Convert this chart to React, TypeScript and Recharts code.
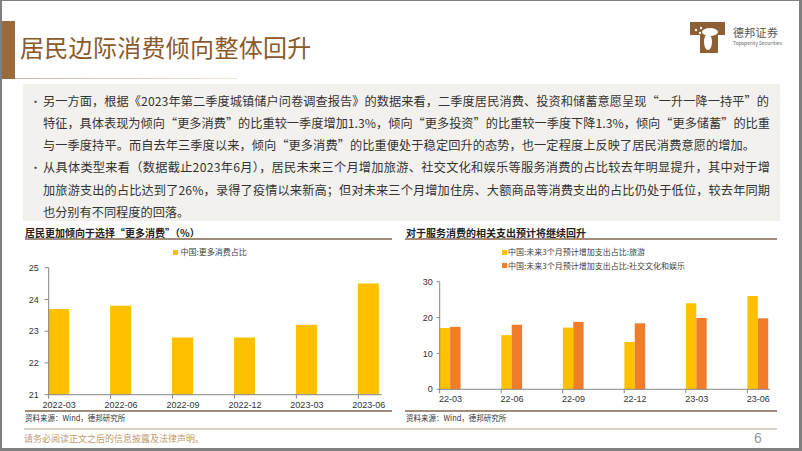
import { BarChart, Bar, XAxis, YAxis } from 'recharts';

// 左图：居民更加倾向于选择"更多消费"
const leftCategories = ['2022-03', '2022-06', '2022-09', '2022-12', '2023-03', '2023-06'];
const moreConsumption = [23.7, 23.8, 22.8, 22.8, 23.2, 24.5];
const leftTicks = [21, 22, 23, 24, 25];

// 右图：服务消费相关支出
const rightCategories = ['22-03', '22-06', '22-09', '22-12', '23-03', '23-06'];
const travel = [17.1, 15.1, 17.2, 13.2, 24.0, 26.0];
const social = [17.4, 18.0, 18.8, 18.4, 19.9, 19.8];
const rightTicks = [0, 10, 20, 30];

const leftData = leftCategories.map((c, i) => ({ idx: i, name: c, value: moreConsumption[i] }));
const rightData = rightCategories.map((c, i) => ({ idx: i, name: c, travel: travel[i], social: social[i] }));
const idxTicks = leftCategories.map((_, i) => i);

const CN = '"Noto Sans CJK SC", "Noto Sans", sans-serif';
const AX = '"Liberation Sans", Arial, sans-serif';
const AXIS = '#868686';
const YELLOW = '#FFC000';
const ORANGE = '#F07D2B';

function CatTick(props: any) {
  const { x, y, payload, labels, shift, dy } = props;
  const label = labels[payload.value] ?? '';
  return (
    <g>
      <line x1={x - shift} x2={x - shift} y1={y} y2={y + 4} stroke={AXIS} />
      <text x={x} y={y + dy} textAnchor="middle" fontSize={9} fill="#333" fontFamily={AX}>
        {label}
      </text>
    </g>
  );
}

// 正文各行（width 为排版宽度，0 表示自然宽度）
const bodyLines = [
  { text: '另一方面，根据《2023年第二季度城镇储户问卷调查报告》的数据来看，二季度居民消费、投资和储蓄意愿呈现“一升一降一持平”的', bullet: true, width: 726 },
  { text: '特征，具体表现为倾向“更多消费”的比重较一季度增加1.3%，倾向“更多投资”的比重较一季度下降1.3%，倾向“更多储蓄”的比重', bullet: false, width: 727 },
  { text: '与一季度持平。而自去年三季度以来，倾向“更多消费”的比重便处于稳定回升的态势，也一定程度上反映了居民消费意愿的增加。', bullet: false, width: 712 },
  { text: '从具体类型来看（数据截止2023年6月），居民未来三个月增加旅游、社交文化和娱乐等服务消费的占比较去年明显提升，其中对于增', bullet: true, width: 727 },
  { text: '加旅游支出的占比达到了26%，录得了疫情以来新高；但对未来三个月增加住房、大额商品等消费支出的占比仍处于低位，较去年同期', bullet: false, width: 727 },
  { text: '也分别有不同程度的回落。', bullet: false, width: 0 },
];

const abs = (left: number, top: number, extra: any = {}) => ({ position: 'absolute' as const, left, top, ...extra });

export default function App() {
  return (
    <div
      style={{
        position: 'absolute', left: 0, top: 0, width: 802, height: 451, background: '#fff',
        boxSizing: 'border-box', borderStyle: 'solid', borderColor: '#808080',
        borderWidth: '1px 3px 3px 2px', overflow: 'hidden', fontFamily: CN,
      }}
    >
      {/* 标题 */}
      <div style={abs(-2, 20, { width: 15, height: 58, background: '#9A6A3A' })} />
      <div style={abs(18, 30, { fontSize: 24, color: '#8B5A2B', lineHeight: '32px', letterSpacing: 0.3 })}>
        居民边际消费倾向整体回升
      </div>
      <div style={abs(13, 77, { width: 222, height: 1, background: 'linear-gradient(90deg,#cdb9a3,#eee6dc)' })} />

      {/* logo */}
      <svg style={abs(686, 19)} width={40} height={36}>
        <path d="M2 2 H37 V15 H30 V33 H12 V15 H2 Z" fill="#8E5F33" />
        <ellipse cx={22} cy={12} rx={8} ry={4} fill="#fff" />
        <ellipse cx={20} cy={22} rx={4} ry={8} fill="#fff" />
        <circle cx={8} cy={10} r={1.2} fill="#fff" />
        <circle cx={13} cy={8} r={1.2} fill="#fff" />
        <circle cx={12} cy={13} r={1.2} fill="#fff" />
      </svg>
      <div style={abs(731, 25, { fontSize: 11, color: '#555', letterSpacing: 0.3, lineHeight: '12px' })}>德邦证券</div>
      <div style={abs(731, 38.5, { fontSize: 5, color: '#666', lineHeight: '6px', whiteSpace: 'nowrap' })}>
        Topsperity Securities
      </div>

      {/* 正文 */}
      <div style={abs(21, 83, { width: 757, height: 137, background: '#F3F1ED' })} />
      <svg style={abs(-2, 82)} width={802} height={140}>
        {bodyLines.map((l, i) => {
          const by = 22.5 + i * 22.3;
          return (
            <g key={i}>
              {l.bullet && (
                <text x={30} y={by} fontSize={11} fill="#444" fontFamily={CN}>•</text>
              )}
              <text
                x={43} y={by} fontSize={12.2} fill="#333" fontFamily={CN}
                {...(l.width ? { textLength: l.width, lengthAdjust: 'spacing' } : {})}
              >
                {l.text}
              </text>
            </g>
          );
        })}
      </svg>

      {/* 左图 */}
      <div style={abs(23, 225, { fontSize: 10, fontWeight: 700, color: '#222', lineHeight: '14px', whiteSpace: 'nowrap' })}>
        居民更加倾向于选择“更多消费”（%）
      </div>
      <div style={abs(23, 237, { width: 367, height: 1.5, background: '#A08C78' })} />
      <div style={abs(171, 248.5, { width: 5, height: 5, background: YELLOW })} />
      <div style={abs(178.5, 245, { fontSize: 8, color: '#404040', lineHeight: '12px', whiteSpace: 'nowrap' })}>中国:更多消费占比</div>
      <div style={abs(-2, 239)}>
        <BarChart width={400} height={180} data={leftData} margin={{ top: 27.7, right: 18.3, bottom: 5.3, left: 0 }}>
          <XAxis
            type="number" dataKey="idx" domain={[-0.1685, 5.208]} ticks={idxTicks} interval={0}
            tickSize={0} tickMargin={0} tickLine={false} height={20} stroke={AXIS}
            tick={<CatTick labels={leftCategories} shift={10.5} dy={13.5} />}
          />
          <YAxis
            type="number" domain={[21, 25]} ticks={leftTicks} interval={0} width={48.7}
            tickSize={4} tickMargin={6} stroke={AXIS}
            tick={{ fontSize: 9, fill: '#333', fontFamily: AX }}
          />
          <Bar dataKey="value" fill={YELLOW} barSize={21} isAnimationActive={false} />
        </BarChart>
      </div>
      <div style={abs(23, 409, { width: 367, height: 1.5, background: '#A08C78' })} />
      <div style={abs(23, 411, { fontSize: 7.5, color: '#333', lineHeight: '11px', whiteSpace: 'nowrap' })}>资料来源：Wind，德邦研究所</div>

      {/* 右图 */}
      <div style={abs(404, 225, { fontSize: 10, fontWeight: 700, color: '#222', lineHeight: '14px', whiteSpace: 'nowrap' })}>
        对于服务消费的相关支出预计将继续回升
      </div>
      <div style={abs(403, 237, { width: 372, height: 1.5, background: '#A08C78' })} />
      <div style={abs(499.7, 248.5, { width: 5, height: 5, background: YELLOW })} />
      <div style={abs(506, 245, { fontSize: 8, color: '#404040', lineHeight: '12px', whiteSpace: 'nowrap' })}>
        中国:未来3个月预计增加支出占比:旅游
      </div>
      <div style={abs(499.7, 262, { width: 5, height: 5, background: ORANGE })} />
      <div style={abs(506, 258.5, { fontSize: 8, color: '#404040', lineHeight: '12px', whiteSpace: 'nowrap' })}>
        中国:未来3个月预计增加支出占比:社交文化和娱乐
      </div>
      <div style={abs(398, 239)}>
        <BarChart width={400} height={180} data={rightData} barGap={0} margin={{ top: 41.7, right: 30, bottom: 10.7, left: 0 }}>
          <XAxis
            type="number" dataKey="idx" domain={[-0.176, 5.192]} ticks={idxTicks} interval={0}
            tickSize={0} tickMargin={0} tickLine={false} height={20} stroke={AXIS}
            tick={<CatTick labels={rightCategories} shift={10.9} dy={12.6} />}
          />
          <YAxis
            type="number" domain={[0, 30]} ticks={rightTicks} interval={0} width={39.7}
            tickSize={3} tickMargin={4} stroke={AXIS}
            tick={{ fontSize: 9, fill: '#333', fontFamily: AX }}
          />
          <Bar dataKey="travel" fill={YELLOW} barSize={10.4} isAnimationActive={false} />
          <Bar dataKey="social" fill={ORANGE} barSize={10.4} isAnimationActive={false} />
        </BarChart>
      </div>
      <div style={abs(403, 409, { width: 372, height: 1.5, background: '#A08C78' })} />
      <div style={abs(404, 411, { fontSize: 7.5, color: '#333', lineHeight: '11px', whiteSpace: 'nowrap' })}>资料来源：Wind，德邦研究所</div>

      {/* 页脚 */}
      <div style={abs(22, 427, { width: 753, height: 1.5, background: '#D9D0C5' })} />
      <div style={abs(22, 431, { fontSize: 9, color: '#C09A6B', lineHeight: '13px', whiteSpace: 'nowrap' })}>
        请务必阅读正文之后的信息披露及法律声明。
      </div>
      <div style={abs(752, 428, { fontSize: 14, color: '#999', lineHeight: '18px', fontFamily: AX, fontWeight: 300 })}>6</div>
    </div>
  );
}
